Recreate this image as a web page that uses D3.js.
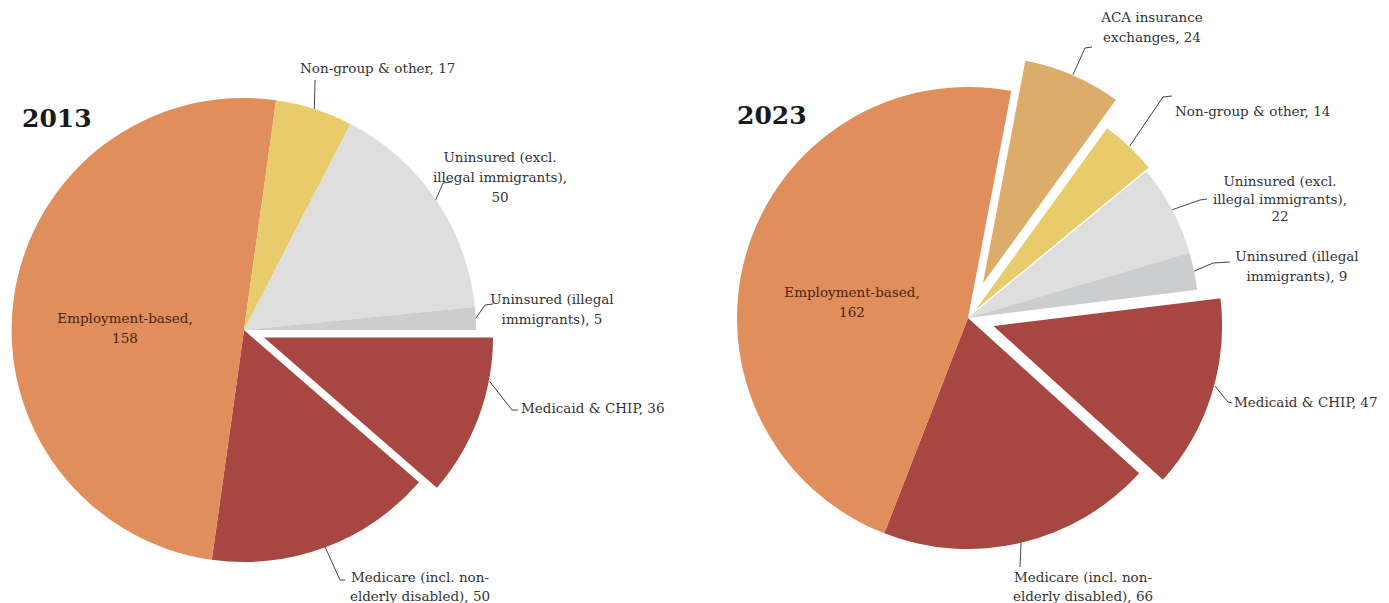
<!DOCTYPE html>
<html>
<head>
<meta charset="utf-8">
<script src="https://cdn.jsdelivr.net/npm/d3@7"></script>
<style>
  body { margin: 0; background: #fff; }
  svg { display: block; }
  text { font-family: "DejaVu Serif", Georgia, serif; fill: #333; }
</style>
</head>
<body>
<svg id="chart" width="1389" height="603"></svg>
<script>
// Sources of health coverage, millions of people under 65

const categories2013 = [
  "Medicaid & CHIP",
  "Medicare (incl. non-elderly disabled)",
  "Employment-based",
  "Non-group & other",
  "Uninsured (excl. illegal immigrants)",
  "Uninsured (illegal immigrants)"
];
const values2013 = [36, 50, 158, 17, 50, 5];

const categories2023 = [
  "Medicaid & CHIP",
  "Medicare (incl. non-elderly disabled)",
  "Employment-based",
  "ACA insurance exchanges",
  "Non-group & other",
  "Uninsured (excl. illegal immigrants)",
  "Uninsured (illegal immigrants)"
];
const values2023 = [47, 66, 162, 24, 14, 22, 9];

// Label wording, split into lines; the value is appended from the data
const labelLines = {
  "Medicaid & CHIP": ["Medicaid & CHIP, {v}"],
  "Medicare (incl. non-elderly disabled)": ["Medicare (incl. non-", "elderly disabled), {v}"],
  "Employment-based": ["Employment-based,", "{v}"],
  "ACA insurance exchanges": ["ACA insurance", "exchanges, {v}"],
  "Non-group & other": ["Non-group & other, {v}"],
  "Uninsured (excl. illegal immigrants)": ["Uninsured (excl.", "illegal immigrants),", "{v}"],
  "Uninsured (illegal immigrants)": ["Uninsured (illegal", "immigrants), {v}"]
};

const colors = d3.scaleOrdinal()
  .domain([
    "Employment-based", "Non-group & other", "ACA insurance exchanges",
    "Uninsured (excl. illegal immigrants)", "Uninsured (illegal immigrants)",
    "Medicaid & CHIP", "Medicare (incl. non-elderly disabled)"
  ])
  .range(["#e08e5c", "#e8cc6c", "#dcad6a", "#dedede", "#cbcdcf", "#a84641", "#a84641"]);

const deg = Math.PI / 180;

// Layout of each pie: geometry, pulled-out slices and label placement
const panels = [
  {
    year: "2013", titleX: 22, titleY: 127,
    categories: categories2013, values: values2013,
    cx: 244, cy: 330, r: 232, start: 90,
    explode: { "Medicaid & CHIP": 19 },
    labels: {
      "Medicaid & CHIP": { at: 0.27, path: [[512, 410], [518, 410]], x: 521, y: 413, anchor: "start" },
      "Medicare (incl. non-elderly disabled)": { at: 0.5, path: [[340, 580], [345, 580]], x: 420, y: 582, anchor: "middle", lh: 19 },
      "Employment-based": { x: 125, y: 323, anchor: "middle", lh: 20, inside: true },
      "Non-group & other": { at: 0.5, path: [[315, 80]], x: 300, y: 73, anchor: "start" },
      "Uninsured (excl. illegal immigrants)": { at: 0.5, path: [[443, 183], [452, 182]], x: 500, y: 162, anchor: "middle", lh: 20 },
      "Uninsured (illegal immigrants)": { at: 0.5, path: [[485, 305], [493, 304]], x: 552, y: 304, anchor: "middle", lh: 20 }
    }
  },
  {
    year: "2023", titleX: 737, titleY: 124,
    categories: categories2023, values: values2023,
    cx: 968, cy: 318, r: 231, start: 83,
    explode: { "Medicaid & CHIP": 25, "ACA insurance exchanges": 34, "Non-group & other": 5 },
    labels: {
      "Medicaid & CHIP": { at: 0.45, path: [[1228, 402], [1232, 403]], x: 1234, y: 407, anchor: "start" },
      "Medicare (incl. non-elderly disabled)": { at: 0.5, path: [[1020, 567]], x: 1083, y: 582, anchor: "middle", lh: 19 },
      "Employment-based": { x: 852, y: 297, anchor: "middle", lh: 20, inside: true },
      "ACA insurance exchanges": { at: 0.5, path: [[1085, 48], [1092, 47]], x: 1152, y: 22, anchor: "middle", lh: 20 },
      "Non-group & other": { at: 0.5, path: [[1163, 97], [1172, 96]], x: 1175, y: 116, anchor: "start" },
      "Uninsured (excl. illegal immigrants)": { at: 0.5, path: [[1200, 200], [1207, 199]], x: 1280, y: 186, anchor: "middle", lh: 17.5 },
      "Uninsured (illegal immigrants)": { at: 0.5, path: [[1213, 263], [1230, 262]], x: 1297, y: 261, anchor: "middle", lh: 20 }
    }
  }
];

const svg = d3.select("#chart");

panels.forEach(p => {
  const data = p.categories.map((c, i) => ({ category: c, value: p.values[i] }));
  const pie = d3.pie()
    .sort(null)
    .value(d => d.value)
    .startAngle(p.start * deg)
    .endAngle(p.start * deg + 2 * Math.PI);
  const arcs = pie(data);
  const arc = d3.arc().innerRadius(0).outerRadius(p.r);

  // offset of a pulled-out slice along its bisector
  const shift = a => {
    const d = p.explode[a.data.category] || 0;
    const mid = (a.startAngle + a.endAngle) / 2;
    return [d * Math.sin(mid), -d * Math.cos(mid)];
  };

  const g = svg.append("g").attr("transform", `translate(${p.cx},${p.cy})`);

  g.selectAll("path.slice")
    .data(arcs)
    .join("path")
    .attr("class", "slice")
    .attr("d", arc)
    .attr("transform", a => `translate(${shift(a)})`)
    .attr("fill", a => colors(a.data.category))
    .attr("stroke", a => (p.explode[a.data.category] ? "#fff" : "none"))
    .attr("stroke-width", 1.5);

  svg.append("text")
    .attr("x", p.titleX)
    .attr("y", p.titleY)
    .style("font-size", "25px")
    .style("font-weight", "bold")
    .style("fill", "#1a1a1a")
    .text(p.year);

  arcs.forEach(a => {
    const L = p.labels[a.data.category];
    if (!L) return;

    if (!L.inside) {
      const ang = a.startAngle + (a.endAngle - a.startAngle) * L.at;
      const [sx, sy] = shift(a);
      const start = [p.cx + sx + p.r * Math.sin(ang), p.cy + sy - p.r * Math.cos(ang)];
      svg.append("path")
        .attr("d", d3.line()([start, ...L.path]))
        .attr("fill", "none")
        .attr("stroke", "#444")
        .attr("stroke-width", 1);
    }

    const lines = labelLines[a.data.category].map(s => s.replace("{v}", a.data.value));
    const t = svg.append("text")
      .attr("x", L.x)
      .attr("y", L.y)
      .attr("text-anchor", L.anchor)
      .style("font-size", "13.5px")
      .style("fill", L.inside ? "#4a2412" : "#333");
    lines.forEach((s, i) => {
      t.append("tspan")
        .attr("x", L.x)
        .attr("dy", i === 0 ? 0 : (L.lh || 20))
        .text(s);
    });
  });
});
</script>
</body>
</html>
